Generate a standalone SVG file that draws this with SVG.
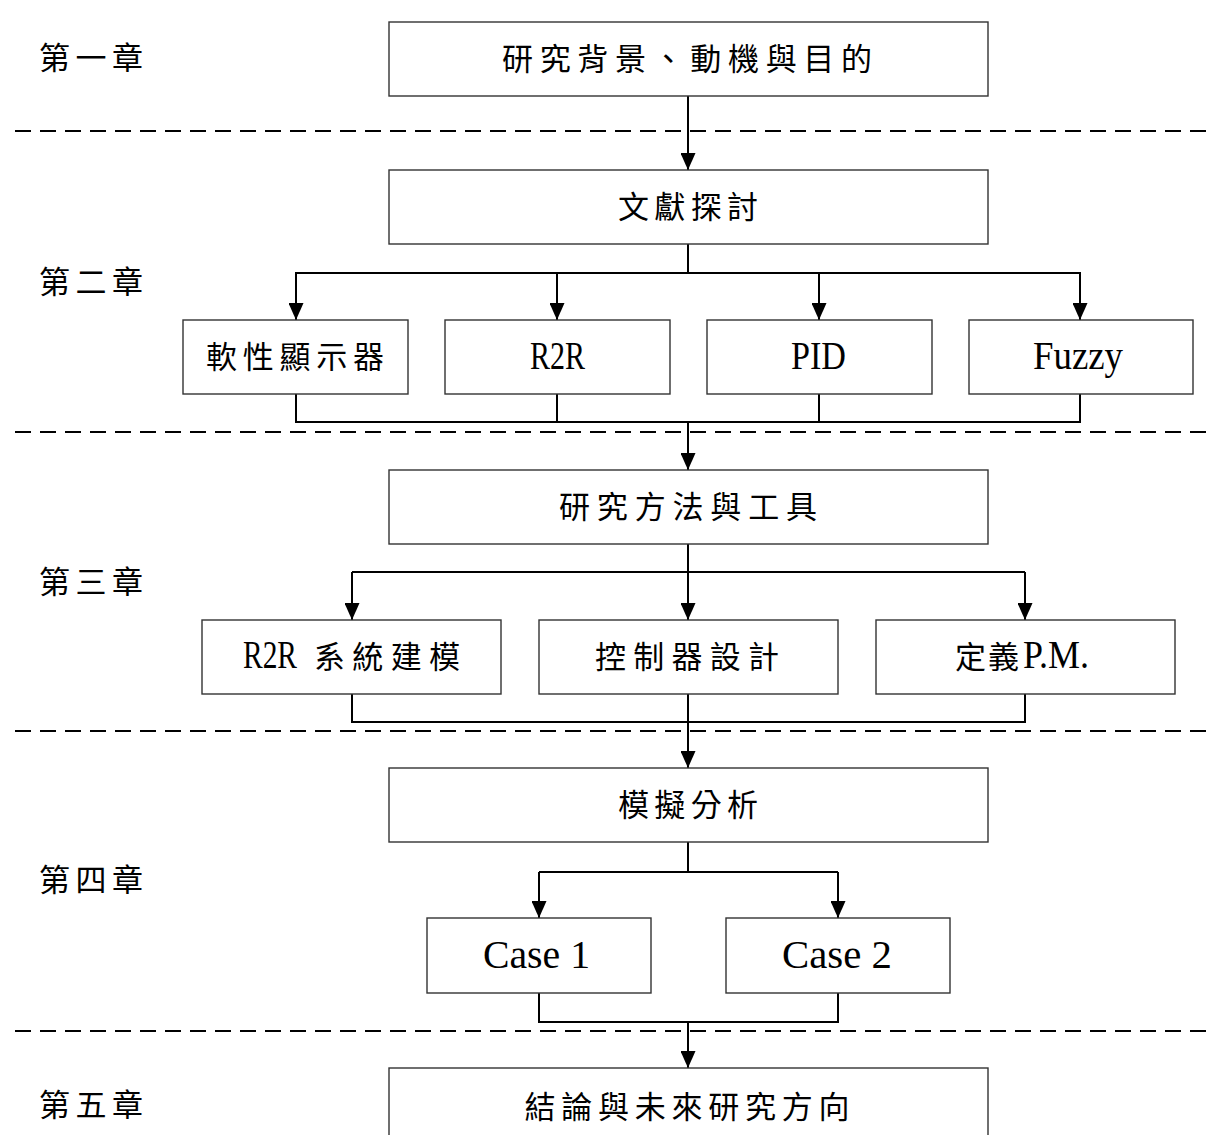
<svg xmlns="http://www.w3.org/2000/svg" width="1206" height="1135" viewBox="0 0 1206 1135">
<style>
.box{fill:#fff;stroke:#333;stroke-width:1.4}
.cjk{font-family:"Noto Sans CJK TC","Noto Sans CJK SC",sans-serif;font-size:31px;fill:#000;text-anchor:middle}
.lat{font-family:"Liberation Serif",serif;font-size:40px;fill:#000}
.con{fill:none;stroke:#000;stroke-width:2}
.dash{fill:none;stroke:#000;stroke-width:2;stroke-dasharray:16 9}
</style>
<defs>
<marker id="ah" markerUnits="userSpaceOnUse" viewBox="0 0 17 15" refX="17" refY="7.5" markerWidth="17" markerHeight="15" orient="auto">
<path d="M0,0 L17,7.5 L0,15 z" fill="#000"/>
</marker>
</defs>
<rect width="1206" height="1135" fill="#fff"/>

<g id="dividers">
<line class="dash" x1="15" y1="131" x2="1206" y2="131"/>
<line class="dash" x1="15" y1="432" x2="1206" y2="432"/>
<line class="dash" x1="15" y1="731" x2="1206" y2="731"/>
<line class="dash" x1="15" y1="1031" x2="1206" y2="1031"/>
</g>

<g id="chapters">
<text class="cjk" x="91" y="69" textLength="104" lengthAdjust="spacing">第一章</text>
<text class="cjk" x="91" y="293" textLength="104" lengthAdjust="spacing">第二章</text>
<text class="cjk" x="91" y="593" textLength="104" lengthAdjust="spacing">第三章</text>
<text class="cjk" x="91" y="891" textLength="104" lengthAdjust="spacing">第四章</text>
<text class="cjk" x="91" y="1116" textLength="104" lengthAdjust="spacing">第五章</text>
</g>

<g id="connectors">
<line class="con" x1="688" y1="96" x2="688" y2="170" marker-end="url(#ah)"/>
<polyline class="con" points="688,244 688,273"/>
<line class="con" x1="295" y1="273" x2="1081" y2="273"/>
<line class="con" x1="296" y1="273" x2="296" y2="320" marker-end="url(#ah)"/>
<line class="con" x1="557" y1="273" x2="557" y2="320" marker-end="url(#ah)"/>
<line class="con" x1="819" y1="273" x2="819" y2="320" marker-end="url(#ah)"/>
<line class="con" x1="1080" y1="273" x2="1080" y2="320" marker-end="url(#ah)"/>
<polyline class="con" points="296,394 296,422 1080,422 1080,394"/>
<line class="con" x1="557" y1="394" x2="557" y2="422"/>
<line class="con" x1="819" y1="394" x2="819" y2="422"/>
<line class="con" x1="688" y1="422" x2="688" y2="470" marker-end="url(#ah)"/>
<polyline class="con" points="688,544 688,572"/>
<line class="con" x1="352" y1="572" x2="1025" y2="572"/>
<line class="con" x1="352" y1="572" x2="352" y2="620" marker-end="url(#ah)"/>
<line class="con" x1="688" y1="572" x2="688" y2="620" marker-end="url(#ah)"/>
<line class="con" x1="1025" y1="572" x2="1025" y2="620" marker-end="url(#ah)"/>
<polyline class="con" points="352,694 352,722 1025,722 1025,694"/>
<line class="con" x1="688" y1="694" x2="688" y2="768" marker-end="url(#ah)"/>
<polyline class="con" points="688,842 688,872"/>
<line class="con" x1="539" y1="872" x2="838" y2="872"/>
<line class="con" x1="539" y1="872" x2="539" y2="918" marker-end="url(#ah)"/>
<line class="con" x1="838" y1="872" x2="838" y2="918" marker-end="url(#ah)"/>
<polyline class="con" points="539,993 539,1022 838,1022 838,993"/>
<line class="con" x1="688" y1="1022" x2="688" y2="1068" marker-end="url(#ah)"/>
</g>

<g id="n1">
<rect class="box" x="389" y="22" width="599" height="74"/>
<text class="cjk" x="687" y="70" textLength="370" lengthAdjust="spacing">研究背景、動機與目的</text>
</g>
<g id="n2">
<rect class="box" x="389" y="170" width="599" height="74"/>
<text class="cjk" x="688" y="218" textLength="140" lengthAdjust="spacing">文獻探討</text>
</g>
<g id="n2a">
<rect class="box" x="183" y="320" width="225" height="74"/>
<text class="cjk" x="295" y="368" textLength="178" lengthAdjust="spacing">軟性顯示器</text>
</g>
<g id="n2b">
<rect class="box" x="445" y="320" width="225" height="74"/>
<text class="lat" x="530" y="369" textLength="55" lengthAdjust="spacingAndGlyphs">R2R</text>
</g>
<g id="n2c">
<rect class="box" x="707" y="320" width="225" height="74"/>
<text class="lat" x="791" y="369" textLength="55" lengthAdjust="spacingAndGlyphs">PID</text>
</g>
<g id="n2d">
<rect class="box" x="969" y="320" width="224" height="74"/>
<text class="lat" x="1033" y="369" textLength="90" lengthAdjust="spacingAndGlyphs">Fuzzy</text>
</g>
<g id="n3">
<rect class="box" x="389" y="470" width="599" height="74"/>
<text class="cjk" x="688" y="518" textLength="258" lengthAdjust="spacing">研究方法與工具</text>
</g>
<g id="n3a">
<rect class="box" x="202" y="620" width="299" height="74"/>
<text class="lat" x="243" y="668" textLength="54" lengthAdjust="spacingAndGlyphs">R2R</text>
<text class="cjk" x="387" y="668" textLength="146" lengthAdjust="spacing">系統建模</text>
</g>
<g id="n3b">
<rect class="box" x="539" y="620" width="299" height="74"/>
<text class="cjk" x="687" y="668" textLength="184" lengthAdjust="spacing">控制器設計</text>
</g>
<g id="n3c">
<rect class="box" x="876" y="620" width="299" height="74"/>
<text class="cjk" x="987" y="668" textLength="64" lengthAdjust="spacing">定義</text>
<text class="lat" x="1023" y="668" textLength="66" lengthAdjust="spacingAndGlyphs">P.M.</text>
</g>
<g id="n4">
<rect class="box" x="389" y="768" width="599" height="74"/>
<text class="cjk" x="688" y="816" textLength="140" lengthAdjust="spacing">模擬分析</text>
</g>
<g id="n4a">
<rect class="box" x="427" y="918" width="224" height="75"/>
<text class="lat" x="483" y="968" textLength="107" lengthAdjust="spacingAndGlyphs">Case 1</text>
</g>
<g id="n4b">
<rect class="box" x="726" y="918" width="224" height="75"/>
<text class="lat" x="782" y="968" textLength="110" lengthAdjust="spacingAndGlyphs">Case 2</text>
</g>
<g id="n5">
<rect class="box" x="389" y="1068" width="599" height="100"/>
<text class="cjk" x="687" y="1118" textLength="325" lengthAdjust="spacing">結論與未來研究方向</text>
</g>
</svg>
